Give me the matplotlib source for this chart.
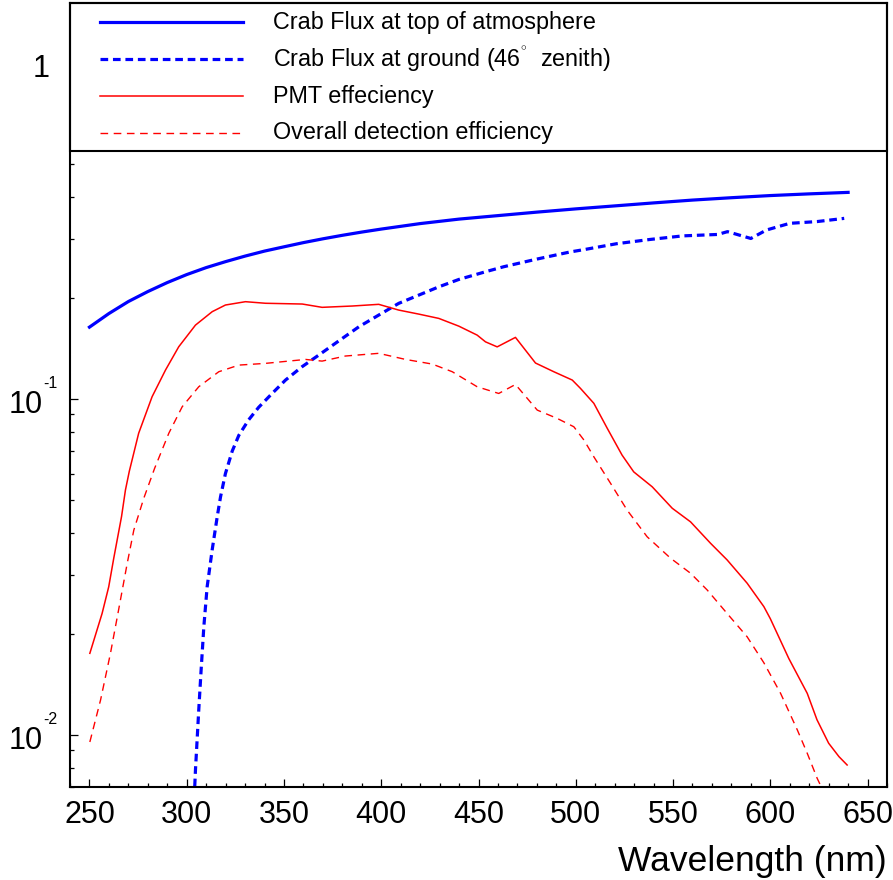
import matplotlib
matplotlib.use("Agg")
import matplotlib.pyplot as plt
from matplotlib.lines import Line2D
from matplotlib.patches import Rectangle
from matplotlib.ticker import LogLocator, NullFormatter, FixedLocator, MultipleLocator
from matplotlib.transforms import blended_transform_factory, offset_copy

plt.rcParams['font.family'] = ['Liberation Sans', 'DejaVu Sans']
plt.rcParams['mathtext.fontset'] = 'custom'
plt.rcParams['mathtext.rm'] = 'Liberation Sans'
plt.rcParams['mathtext.it'] = 'Liberation Sans:italic'
plt.rcParams['mathtext.bf'] = 'Liberation Sans:bold'

# ---------------- data ----------------
wl_top = [250, 260, 270, 280, 290, 300, 310, 320, 330, 340, 350, 360, 370, 380, 390,
          400, 420, 440, 460, 480, 500, 520, 540, 560, 580, 600, 620, 640]
flux_top = [0.1637, 0.1797, 0.1951, 0.2089, 0.2222, 0.2347, 0.2462, 0.2565, 0.2664,
            0.2757, 0.2839, 0.2922, 0.2999, 0.3072, 0.3141, 0.3206, 0.3329, 0.3433,
            0.3516, 0.3601, 0.3682, 0.3758, 0.3836, 0.3911, 0.3975, 0.4034, 0.4081,
            0.4123]

wl_ground = [303, 304.5, 306.2, 307.4, 308.8, 310.5, 313.1, 315.7, 317.4, 319.9, 323.4,
             326.8, 331.9, 337, 343.9, 350.8, 359.3, 367.9, 378.2, 388.5, 398.7, 409,
             419.3, 429.6, 439.9, 453.6, 463, 480, 497, 505, 521, 538, 555, 573, 578,
             590, 598, 610, 624, 638]
flux_ground = [0.005, 0.00787, 0.0119, 0.0156, 0.0210, 0.0276, 0.0356, 0.0447, 0.0512,
               0.0600, 0.0700, 0.0780, 0.0868, 0.0945, 0.1039, 0.1139, 0.1248, 0.1352,
               0.1490, 0.1641, 0.1778, 0.1927, 0.2039, 0.2158, 0.2270, 0.2393, 0.2477,
               0.2610, 0.2740, 0.2790, 0.2900, 0.2985, 0.3060, 0.3090, 0.3150, 0.3006,
               0.3185, 0.3335, 0.3375, 0.3450]

wl_pmt = [250.2, 256.5, 259.9, 262.5, 266.5, 268.5, 270.5, 275.3, 282.2, 289.1, 295.9,
          304.5, 313.1, 319.9, 330.2, 340.5, 359.4, 369.6, 385.1, 398.7, 409, 419.3,
          429.6, 439.9, 449.3, 453.6, 459.6, 469, 479.3, 488.7, 498.2, 502.4, 509.3,
          516.2, 523.8, 529.8, 539.3, 549.6, 559, 569.3, 577.8, 588.1, 596.7, 600,
          609.5, 619, 624, 630, 635.3, 639.5]
eff_pmt = [0.0175, 0.0230, 0.0276, 0.0336, 0.0447, 0.0536, 0.0610, 0.0791, 0.1016,
           0.1220, 0.1431, 0.1660, 0.1820, 0.1905, 0.1949, 0.1928, 0.1918, 0.1875,
           0.1892, 0.1914, 0.1840, 0.1790, 0.1738, 0.1648, 0.1550, 0.1480, 0.1430,
           0.1526, 0.1280, 0.1206, 0.1139, 0.1076, 0.0971, 0.0818, 0.0681, 0.0607,
           0.0548, 0.0473, 0.0431, 0.0372, 0.0332, 0.0283, 0.0241, 0.0222, 0.0169,
           0.0133, 0.0111, 0.00945, 0.00862, 0.00814]

wl_total = [250.2, 255.7, 260.8, 265, 269.4, 272.8, 277.9, 283.5, 290.8, 297.7, 306.2,
            316.5, 326.8, 340.5, 361.1, 369.6, 381.6, 398.7, 412.5, 426.2, 436.5, 449.3,
            460.4, 469, 480.2, 490.4, 499, 504.2, 509.3, 517.9, 526.4, 536.7, 548.7, 559,
            567.6, 577.8, 588.1, 596.7, 605.3, 613.9, 619, 624.1, 630, 640]
eff_total = [0.00953, 0.0127, 0.0175, 0.0236, 0.0324, 0.0407, 0.0506, 0.0622, 0.0791,
             0.0949, 0.1088, 0.1206, 0.1262, 0.1277, 0.1312, 0.1297, 0.1343, 0.1368,
             0.1312, 0.1271, 0.1206, 0.1088, 0.1039, 0.1105, 0.0927, 0.0876, 0.0827,
             0.0755, 0.0673, 0.0561, 0.0467, 0.0389, 0.0336, 0.0303, 0.0270, 0.0230,
             0.0196, 0.0164, 0.0133, 0.01035, 0.00882, 0.00743, 0.0063, 0.0052]

labels = ["Crab Flux at top of atmosphere",
          r"Crab Flux at ground (46$^{{}^{\circ}}$  zenith)",
          "PMT effeciency",
          "Overall detection efficiency"]

x_ticks = [250, 300, 350, 400, 450, 500, 550, 600, 650]
y_ticks = [0.01, 0.1, 1]
y_tick_base = ["10", "10", "1"]
y_tick_exp = ["-2", "-1", ""]

# ---------------- styles ----------------
styles = [
    dict(color='#0000ff', lw=2.3, ls='-'),
    dict(color='#0000ff', lw=2.3, ls=(0, (2.4, 1.5))),
    dict(color='#ff0000', lw=1.1, ls='-'),
    dict(color='#ff0000', lw=1.0, ls=(0, (5.5, 4.0))),
]

fig = plt.figure(figsize=(8.93, 8.80), dpi=100)
ax = fig.add_axes([70/893, 1-787/880, 817/893, 784/880])

series = [(wl_top, flux_top), (wl_ground, flux_ground), (wl_pmt, eff_pmt), (wl_total, eff_total)]
for (xs, ys), st in zip(series, styles):
    ax.plot(xs, ys, **st, zorder=2)

ax.set_yscale('log')
ax.set_xlim(240, 660)
ax.set_ylim(0.007, 1.51)

ax.xaxis.set_major_locator(FixedLocator(x_ticks))
ax.xaxis.set_minor_locator(MultipleLocator(10))
ax.set_yticks(y_ticks)
ax.set_yticklabels([""] * len(y_ticks))
ax.yaxis.set_minor_locator(LogLocator(base=10, subs=range(2, 10)))
ax.yaxis.set_minor_formatter(NullFormatter())

ax.tick_params(which='both', direction='in', top=False, right=False, width=0.9)
ax.tick_params(which='major', length=5.5)
ax.tick_params(which='minor', length=2.7)
ax.tick_params(axis='x', which='major', labelsize=22, pad=9)
for sp in ax.spines.values():
    sp.set_linewidth(1.5)

# y tick labels in ROOT style: base number with a small raised exponent
ytr = blended_transform_factory(ax.transAxes, ax.transData)
for v, b, e in zip(y_ticks, y_tick_base, y_tick_exp):
    xr = -27/817 if e else -20/817
    ax.text(xr, v, b, fontsize=22, ha='right', va='baseline',
            transform=offset_copy(ytr, fig=fig, x=0, y=-14, units='dots'), clip_on=False)
    if e:
        ax.text(xr, v, e, fontsize=11.5, ha='left', va='baseline',
                transform=offset_copy(ytr, fig=fig, x=0, y=11, units='dots'), clip_on=False)

ax.set_xlabel("Wavelength (nm)", fontsize=25.5, loc='right', labelpad=11.5)

# ---------------- legend (drawn inside the frame, under the axis ticks) ----------------
leg_bottom = (787-151)/784
ax.add_patch(Rectangle((0, leg_bottom), 1, 1-leg_bottom, transform=ax.transAxes,
                       facecolor='white', edgecolor='black', lw=1.5, zorder=2.2, clip_on=False))
rows = [(787-22)/784, (787-59)/784, (787-96)/784, (787-133)/784]
x0, x1, xt = (100-70)/817, (243-70)/817, (273-70)/817
for lab, st, yy in zip(labels, styles, rows):
    ax.add_line(Line2D([x0, x1], [yy, yy], transform=ax.transAxes, zorder=2.3, **st))
    ax.text(xt, yy, lab, transform=ax.transAxes, fontsize=16.8, va='center', ha='left',
            zorder=2.4)

fig.savefig("out.png", dpi=100)
